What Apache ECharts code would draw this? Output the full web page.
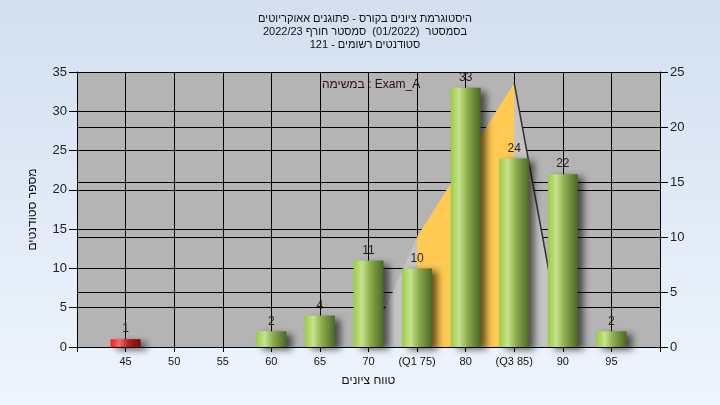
<!DOCTYPE html>
<html>
<head>
<meta charset="utf-8">
<script src="https://cdn.jsdelivr.net/npm/echarts@6/dist/echarts.min.js"></script>
<style>
html,body{margin:0;padding:0;}
#c{width:720px;height:405px;}
</style>
</head>
<body>
<div id="c"></div>
<script>
const titleLines = [
  'היסטוגרמת ציונים בקורס - פתוגנים אאוקריוטים',
  'בסמסטר  (01/2022)  סמסטר חורף 2022/23',
  'סטודנטים רשומים - 121'
];
const taskLabel = 'במשימה : Exam_A';
const xAxisName = 'טווח ציונים';
const yAxisName = 'מספר סטודנטים';
const grades = [45, 50, 55, 60, 65, 70, 75, 80, 85, 90, 95];
const counts = [1, 0, 0, 2, 4, 11, 10, 33, 24, 22, 2];
const specialTicks = {75: '(Q1 75)', 85: '(Q3 85)'};
const curveX = [70, 75, 85, 90];
const curveY = [0, 10, 24, 0];
const q1 = 75, q3 = 85;
const passGrade = 55;

const font = 'Liberation Sans, Arial, sans-serif';
const green = {type:'linear',x:0,y:0,x2:1,y2:0,colorStops:[
  {offset:0,color:'#9ccb45'},{offset:0.28,color:'#c6e38e'},{offset:0.55,color:'#8eae4c'},{offset:1,color:'#4c6626'}]};
const red = {type:'linear',x:0,y:0,x2:1,y2:0,colorStops:[
  {offset:0,color:'#ff1a1a'},{offset:0.3,color:'#f06a6a'},{offset:0.6,color:'#b02020'},{offset:1,color:'#7a0a0a'}]};

const barData = [];
grades.forEach((g,i)=>{ if(counts[i]>0) barData.push({value:[g,counts[i]], itemStyle:{color: g<passGrade?red:green}}); });
const curveData = curveX.map((x,i)=>[x,curveY[i]]);
const iqrData = curveData.filter(p=>p[0]>=q1 && p[0]<=q3);
const tailData = curveData.filter(p=>p[0]>=q3);

const chart = echarts.init(document.getElementById('c'));
chart.setOption({
  animation:false,
  backgroundColor:{type:'linear',x:0,y:0,x2:0,y2:1,colorStops:[{offset:0,color:'#d3dff0'},{offset:1,color:'#eef5fd'}]},
  title:{text:titleLines.join('\n'),left:360,top:7,textAlign:'center',
    textStyle:{fontFamily:font,fontSize:11,fontWeight:'normal',color:'#111',lineHeight:13}},
  graphic:[{type:'text',left:322,top:79,z:10,style:{text:taskLabel,font:'12px '+font,fill:'#2a1010'}}],
  grid:{left:77,right:60,top:72,bottom:58,show:true,backgroundColor:'#b4b4b4',borderWidth:0},
  xAxis:{type:'value',min:40,max:100,interval:5,
    name:xAxisName,nameLocation:'middle',nameGap:28,nameTextStyle:{fontFamily:font,fontSize:12,color:'#111'},
    axisLine:{show:true,lineStyle:{color:'#000',width:1}},
    axisTick:{show:true,length:5,lineStyle:{color:'#000'}},
    axisLabel:{fontFamily:font,fontSize:11,color:'#111',margin:9,
      formatter:v=> (v===40||v===100)?'':(specialTicks[v]||String(v))},
    splitLine:{show:true,lineStyle:{color:'#000',width:1}}},
  yAxis:[{type:'value',min:0,max:35,interval:5,position:'left',
    name:yAxisName,nameLocation:'middle',nameRotate:90,nameGap:38,nameTextStyle:{fontFamily:font,fontSize:12,color:'#111'},
    axisLine:{show:true,lineStyle:{color:'#000'}},
    axisTick:{show:true,length:8,lineStyle:{color:'#000'}},
    axisLabel:{fontFamily:font,fontSize:13,color:'#222',margin:10},
    splitLine:{show:true,lineStyle:{color:'#000',width:1}}},
   {type:'value',min:0,max:25,interval:5,position:'right',
    axisLine:{show:true,lineStyle:{color:'#000'}},
    axisTick:{show:true,length:8,lineStyle:{color:'#000'}},
    axisLabel:{fontFamily:font,fontSize:13,color:'#222',margin:10},
    splitLine:{show:true,lineStyle:{color:'#000',width:1}}}],
  series:[
    {type:'line',yAxisIndex:1,data:curveData,symbol:'none',silent:true,z:1,
      lineStyle:{width:0,opacity:0},areaStyle:{color:'#c4c4c4',opacity:1}},
    {type:'line',yAxisIndex:1,data:iqrData,symbol:'none',silent:true,z:1,
      lineStyle:{width:0,opacity:0},areaStyle:{color:'#ffc952',opacity:1}},
    {type:'line',yAxisIndex:1,data:tailData,symbol:'none',silent:true,z:1,
      lineStyle:{width:1.5,color:'#333'}},
    {type:'bar',yAxisIndex:0,data:barData,barWidth:30,z:5,
      itemStyle:{shadowColor:'rgba(0,0,0,0.6)',shadowBlur:7,shadowOffsetX:6,shadowOffsetY:3},
      label:{show:true,position:'top',distance:4,fontFamily:font,fontSize:12,color:'#301818',
        formatter:p=>p.value[1]}}
  ]
});
</script>
</body>
</html>
